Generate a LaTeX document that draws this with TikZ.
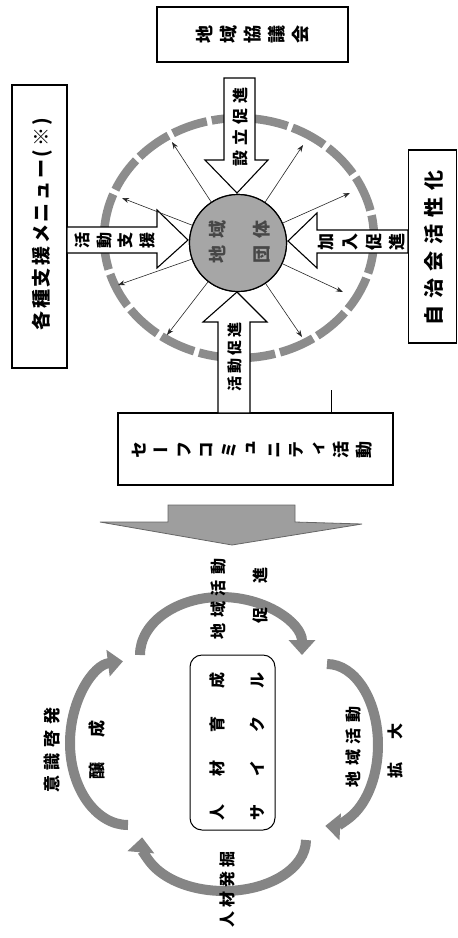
\documentclass[tikz,border=0pt]{standalone}
\usepackage{fontspec}
\setmainfont{Noto Sans CJK JP}
\newfontfamily\vjp{Noto Sans CJK JP}[RawFeature=+vert]
\usetikzlibrary{arrows.meta,calc}
\begin{document}
\begin{tikzpicture}[x=1pt,y=-1pt,
  box/.style={draw=black, line width=1.6pt, fill=white, inner sep=0pt},
  hs/.style n args={2}{rotate=90, inner sep=0pt, font=\bfseries\fontsize{#1}{#1}\selectfont\addfontfeature{LetterSpace=#2}},
  hstwo/.style n args={3}{rotate=90, align=center, inner sep=0pt, font=\bfseries\fontsize{#1}{#3}\selectfont\addfontfeature{LetterSpace=#2}},
  vs/.style n args={2}{rotate=90, align=center, inner sep=0pt, font=\vjp\bfseries\fontsize{#1}{#2}\selectfont},
  blk/.style={draw=black, line width=1.1pt, fill=white, line join=miter},
  tarr/.style={draw=black!85, line width=0.6pt, -{Stealth[length=7pt,width=5pt]}},
  carr/.style={draw=black!48, line width=10pt, -{Triangle[width=26pt,length=15pt]}},
  ringst/.style={draw=black!45, line width=8.5pt, dash pattern=on 36pt off 5pt},
  bigarr/.style={draw=black!60, line width=0.8pt, fill=black!38}
]
\useasboundingbox (0,0) rectangle (458,938);

% outer ring
\draw[ringst] (239,238) ellipse [x radius=135, y radius=120];

% boxes
\node[box, minimum width=191, minimum height=55] (kyo) at (252.5,34.5) {};
\node[box, minimum width=55, minimum height=283] (menu) at (39.5,226.5) {};
\node[box, minimum width=48, minimum height=193] (jichi) at (432.5,246.5) {};
\node[box, minimum width=275, minimum height=72] (safe) at (255.5,449) {};

\node[vs={18}{24}] (kyoT) at (kyo) {地\\域\\協\\議\\会};
\node[hs={19}{14}] (menuT) at (42,224) {各種支援メニュー(※)};
\node[hs={20}{35}] (jichiT) at (434,248) {自治会活性化};
\node[vs={17}{22.5}] (safeT) at (252,450) {セ\\ー\\フ\\コ\\ミ\\ュ\\ニ\\テ\\ィ\\活\\動};

% leader line
\coordinate (lead) at (331,390);
\draw[line width=0.8pt] (lead) -- (lead |- safe.north);

% centre circle (for anchoring the radial arrows)
\node[circle, draw=black, line width=1.2pt, fill=black!35, minimum size=97, inner sep=0pt] (core) at (238,243) {};
\coordinate (e1) at (172,142);
\coordinate (e2) at (303,145);
\coordinate (e3) at (350,193);
\coordinate (e4) at (343,292);
\coordinate (e5) at (302,337);
\coordinate (e6) at (167,335);
\coordinate (e7) at (118,285);
\coordinate (e8) at (122,198);

% block arrows
\draw[blk] (224,78) -- (255,78) -- (255,160) -- (268,160) -- (237,193) -- (205,160) -- (224,160) -- cycle;
\draw[blk] (67,227) -- (157,227) -- (157,210) -- (188,240) -- (157,268) -- (157,253) -- (67,253) -- cycle;
\draw[blk] (408,230) -- (317,230) -- (317,213) -- (288,241) -- (317,268) -- (317,253) -- (408,253) -- cycle;
\draw[blk] (218,413) -- (218,322) -- (203,322) -- (237,292) -- (267,322) -- (250,322) -- (250,413) -- cycle;

\foreach \e in {e1,e2,e3,e4,e5,e6,e7,e8} \draw[tarr] (core) -- (\e);
\node[circle, draw=black, line width=1.2pt, fill=black!35, minimum size=97, inner sep=0pt] (core2) at (core) {};
\node[hstwo={18}{44}{44}, text=black!72] (coreT) at (240,242) {地域\\団体};

\node[hs={16}{31}] (setsu) at (240,127) {設立促進};
\node[vs={16}{21.7}] (shien) at (115,240) {活\\動\\支\\援};
\node[vs={17}{23.7}] (kanyu) at (362,242) {加\\入\\促\\進};
\node[hs={15}{22}] (soku) at (235,357) {活動促進};

% big gray arrow
\draw[bigarr] (168,505) -- (295,505) -- (295,522) -- (362,524) -- (232,545) -- (100,522) -- (168,522) -- cycle;

% cycle
\node[draw=black, line width=1pt, rounded corners=12pt, minimum width=85, minimum height=175, inner sep=0pt] (cyc) at (232.5,742.5) {};
\node[hstwo={16}{37.5}{40}] (cycT) at (237,746) {人　材　育　成\\サ　イ　ク　ル};

\coordinate (a1) at (140,655);
\coordinate (a2) at (327,664);
\coordinate (a3) at (306,840);
\coordinate (a4) at (128,825);
\draw[carr] (a1) arc[start angle=180, end angle=360, x radius=81, y radius=58];
\draw[carr] (a2) arc[start angle=-90, end angle=92, x radius=51, y radius=81];
\draw[carr] (a3) arc[start angle=0, end angle=183, x radius=82, y radius=51];
\draw[carr] (a4) arc[start angle=90, end angle=265, x radius=58, y radius=82];

\node[hs={16}{37}] (t1) at (218,599) {地域活動};
\node[hs={16}{25}] (t2) at (260,595) {促　進};
\node[hs={16}{37}] (r1) at (353,747) {地域活動};
\node[hs={16}{20}] (r2) at (395,751) {拡　大};
\node[hs={16}{25}] (b1) at (227,889) {人材発掘};
\node[hs={17}{35}] (l1) at (52,750) {意識啓発};
\node[hs={17}{26}] (l2) at (97,750) {醸　成};
\end{tikzpicture}
\end{document}
